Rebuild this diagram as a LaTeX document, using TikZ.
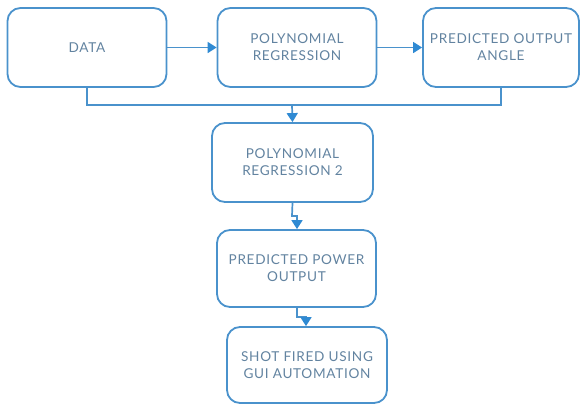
\documentclass[tikz,border=0pt]{standalone}
\usepackage{fontspec}
\setmainfont[LetterSpace=5]{Lato}
\usetikzlibrary{arrows.meta}
\definecolor{boxline}{HTML}{4A92CC}
\definecolor{boxtext}{HTML}{6283A0}
\definecolor{tipblue}{HTML}{2F8AD3}
\begin{document}
\begin{tikzpicture}[x=1pt,y=-1pt,
  flowbox/.style={draw=boxline, line width=1.8pt, rounded corners=13pt,
    minimum width=#1, align=center, text=boxtext, font=\fontsize{13.6}{17}\selectfont},
  flowbox/.default=159pt,
  link/.style={draw=boxline, line width=1.7pt, -{Triangle[width=11pt,length=9pt,color=tipblue]}},
  plain/.style={draw=boxline, line width=1.7pt}]
\useasboundingbox (0,0) rectangle (581,405);
\node[flowbox=159pt, minimum height=79pt] (data) at (87,47.5) {DATA};
\node[flowbox=159pt, minimum height=79pt] (poly) at (297,47.5) {POLYNOMIAL\\REGRESSION};
\node[flowbox=156pt, minimum height=79pt] (angle) at (501,47.5) {PREDICTED OUTPUT\\ANGLE};
\node[flowbox=161pt, minimum height=79pt] (poly2) at (292.5,162.5) {POLYNOMIAL\\REGRESSION 2};
\node[flowbox=159pt, minimum height=77pt] (power) at (296.5,268.5) {PREDICTED POWER\\OUTPUT};
\node[flowbox=160pt, minimum height=76pt] (shot) at (307,365) {SHOT FIRED USING\\GUI AUTOMATION};
% top row
\draw[link] (data) -- (poly);
\draw[link] (poly) -- (angle);
% merge of the two side branches into the second regression
\coordinate (mergeL) at (87,105);
\coordinate (mergeR) at (501,105);
\coordinate (mergeM) at (292,105);
\draw[plain] (data.south) -- (mergeL) -- (mergeR) -- (angle.south);
\draw[link] (mergeM) -- (poly2.north);
% jogged connectors down the column
\coordinate (jogA) at (292,216);
\coordinate (jogB) at (297,216);
\draw[link] (poly2.south) -- (jogA) -- (jogB) -- (power.north -| jogB);
\coordinate (jogC) at (297,317);
\coordinate (jogD) at (306,317);
\draw[link] (power.south -| jogC) -- (jogC) -- (jogD) -- (shot.north -| jogD);
\end{tikzpicture}
\end{document}
